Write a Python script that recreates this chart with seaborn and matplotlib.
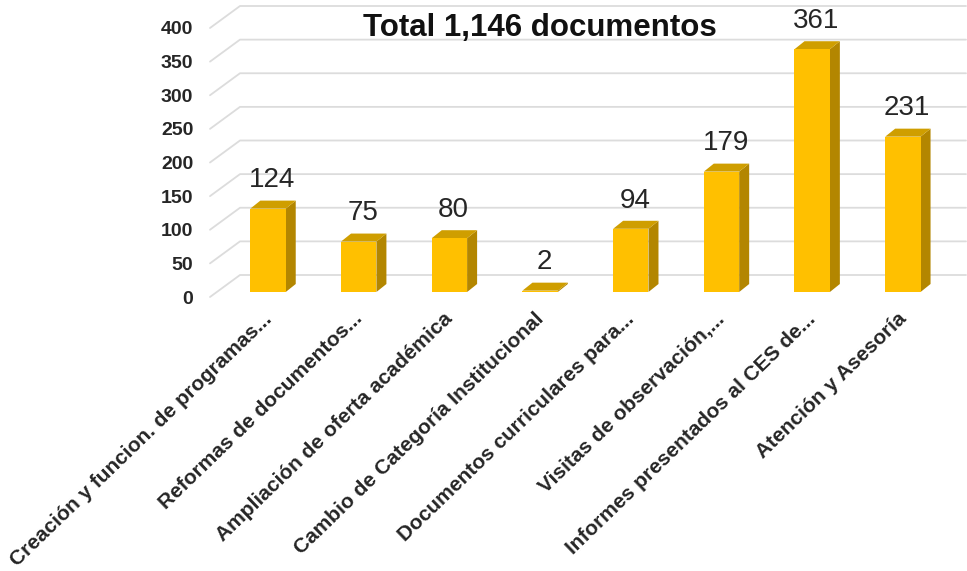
import matplotlib
matplotlib.use("Agg")
import matplotlib.pyplot as plt
import seaborn as sns
import pandas as pd
from matplotlib.patches import Polygon
from matplotlib.lines import Line2D
from matplotlib.transforms import ScaledTranslation

categories = [
    "Creación y funcion. de programas...",
    "Reformas de documentos...",
    "Ampliación de oferta académica",
    "Cambio de Categoría Institucional",
    "Documentos curriculares para...",
    "Visitas de observación,...",
    "Informes presentados al CES de...",
    "Atención y Asesoría",
]
values = [124, 75, 80, 2, 94, 179, 361, 231]
y_ticks = [0, 50, 100, 150, 200, 250, 300, 350, 400]
title_text = "Total 1,146 documentos"

FRONT = "#FFC000"
SIDE = "#B38600"
TOP = "#CF9E00"
TEXT = "#262626"
GRID = "#DCDCDC"

sns.set_theme(style="white")
plt.rcParams["font.family"] = ["Liberation Sans", "DejaVu Sans"]

fig = plt.figure(figsize=(9.67, 5.71), dpi=100)
ax = fig.add_axes([210 / 967, (571 - 292) / 571, 750 / 967, 269 / 571])

df = pd.DataFrame({"cat": categories, "val": values})
sns.barplot(data=df, x="cat", y="val", color=FRONT, width=0.39, saturation=1,
            linewidth=0, ax=ax, zorder=3)
ax.set_xlim(-0.64, 7.63)
ax.set_ylim(0, 400)
for s in ax.spines.values():
    s.set_visible(False)
ax.set_xlabel("")
ax.set_ylabel("")

inv = ax.transData.inverted()

def to_data(pts):
    return inv.transform(pts)

# back wall gridlines (display px offsets)
WALL_DX, WALL_DY = 30, 22
for v in y_ticks:
    Xa, Ya = ax.transData.transform((ax.get_xlim()[0], v))
    front = (Xa, Ya - 5)
    back = (Xa + WALL_DX, Ya - 5 + WALL_DY)
    right = (fig.bbox.width - 1, Ya - 5 + WALL_DY)
    pts = to_data([front, back, right])
    ax.add_line(Line2D(pts[:, 0], pts[:, 1], color=GRID, lw=1.3,
                       clip_on=False, zorder=1))

# 3D faces of bars
DX, DY = 10, 8
for p in ax.patches[:len(values)]:
    x0, x1 = p.get_x(), p.get_x() + p.get_width()
    h = p.get_height()
    (X0, Y0), (X1, Y1) = ax.transData.transform([(x0, 0), (x1, h)])
    side = to_data([(X1, Y0), (X1, Y1), (X1 + DX, Y1 + DY), (X1 + DX, Y0 + DY)])
    top = to_data([(X0, Y1), (X1, Y1), (X1 + DX, Y1 + DY), (X0 + DX, Y1 + DY)])
    ax.add_patch(Polygon(side, closed=True, facecolor=SIDE, edgecolor="none",
                         zorder=2.9, clip_on=False))
    ax.add_patch(Polygon(top, closed=True, facecolor=TOP, edgecolor="none",
                         zorder=2.9, clip_on=False))
    ax.annotate(f"{int(h)}", (p.get_x() + p.get_width() / 2, h),
                xytext=(3, 11), textcoords="offset points", ha="center",
                va="bottom", fontsize=20, color=TEXT, zorder=5)

ax.set_yticks(y_ticks)
ax.set_yticklabels([str(t) for t in y_ticks], fontsize=14, fontweight="bold",
                   color=TEXT)
ax.tick_params(axis="y", length=0, pad=12)
for lab in ax.get_yticklabels():
    lab.set_transform(lab.get_transform() + ScaledTranslation(0, -0.05, fig.dpi_scale_trans))

ax.set_xticks(range(len(categories)))
ax.set_xticklabels(categories, rotation=44, ha="right", rotation_mode="anchor",
                   fontsize=15, fontweight="bold", color=TEXT)
ax.tick_params(axis="x", length=0, pad=11)
for lab in ax.get_xticklabels():
    lab.set_transform(lab.get_transform() + ScaledTranslation(-0.06, -0.02, fig.dpi_scale_trans))

ax.grid(False)
fig.text(540 / 967, 1 - 28 / 571, title_text, ha="center", va="center",
         fontsize=22.5, fontweight="bold", color="#111111")

fig.savefig("out.png", dpi=100, facecolor="white")
